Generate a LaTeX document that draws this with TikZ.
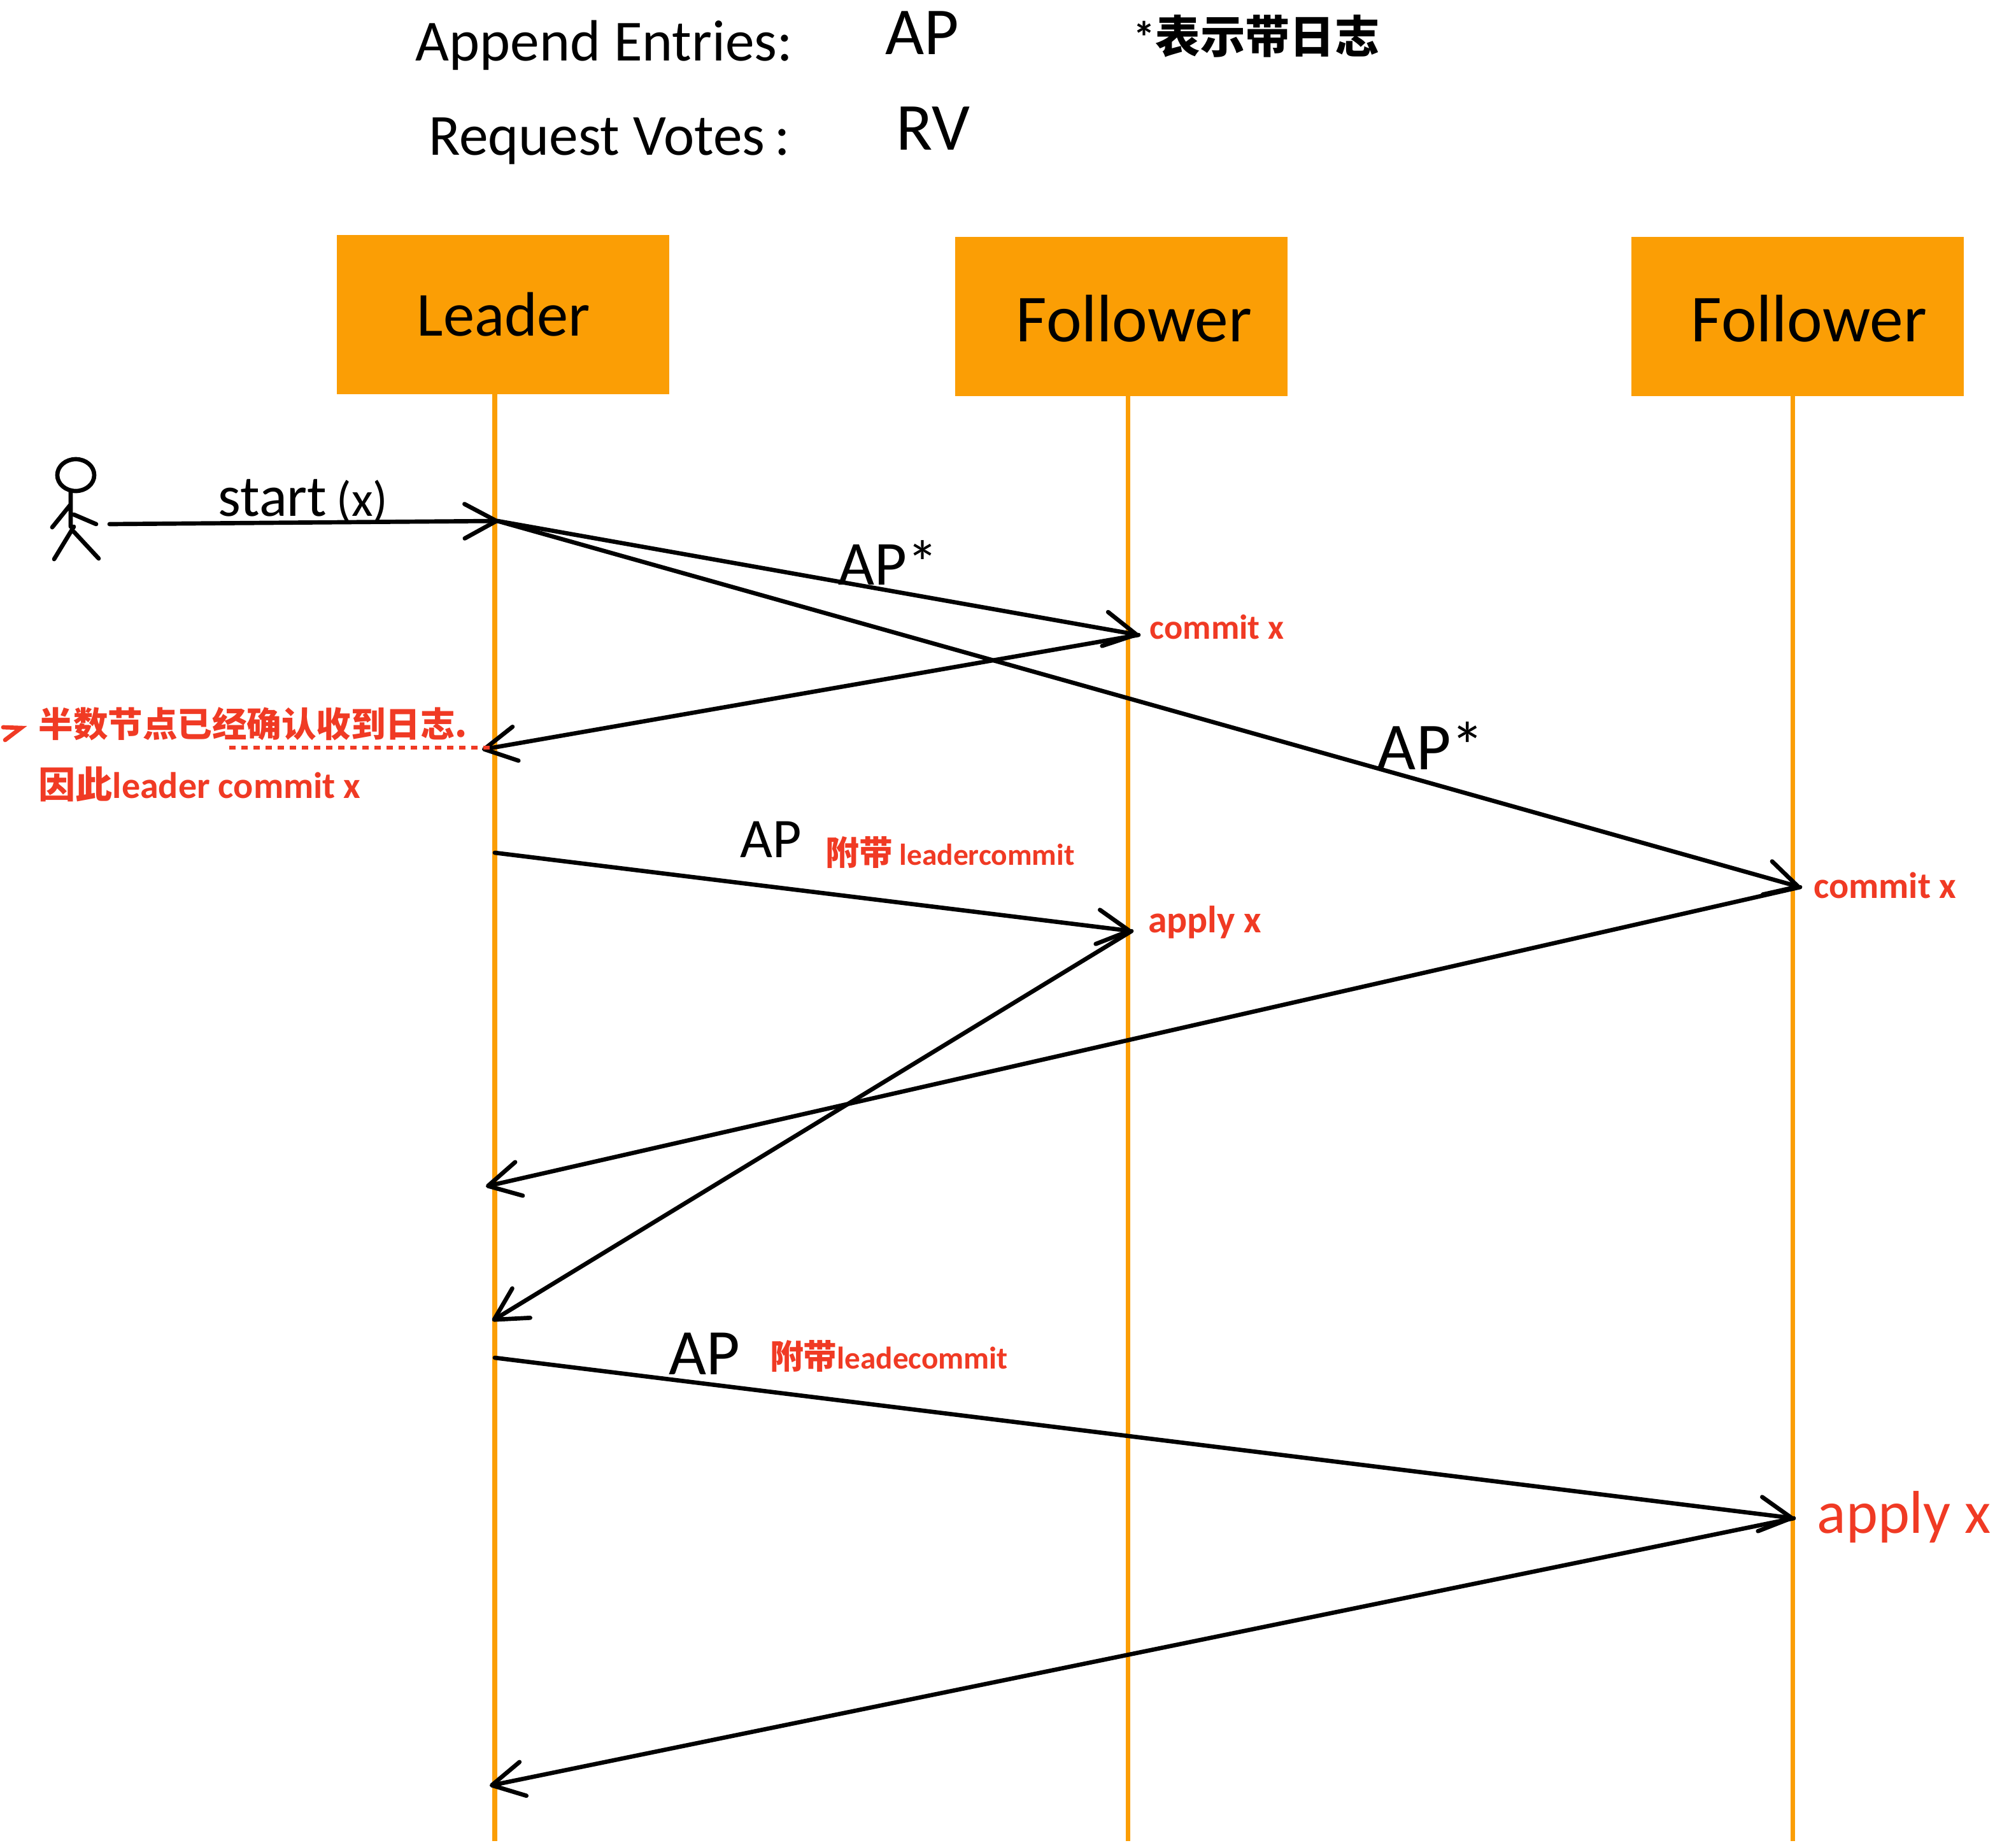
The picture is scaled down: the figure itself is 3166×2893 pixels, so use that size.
\documentclass[tikz,border=0pt]{standalone}
\usepackage{fontspec}
\setmainfont{Carlito}
\newfontfamily\cjk{Noto Sans CJK SC}
\usetikzlibrary{arrows.meta}
\definecolor{boxorange}{HTML}{FB9E05}
\definecolor{notered}{HTML}{F03A24}
\newcommand{\fs}[1]{\fontsize{#1}{#1}\selectfont}
\tikzset{
    role/.style={fill=boxorange, minimum width=5.21cm, minimum height=2.49cm},
    rolename/.style={font=\fs{30}, inner sep=0pt},
    lifeline/.style={boxorange, line width=2pt},
    msg/.style={black, line width=1.9pt, line cap=round, -{Straight Barb[round, length=5mm, width=5.4mm, line width=1.9pt]}},
    title/.style={font=\fs{26}},
    biglabel/.style={font=\fs{30}},
    note/.style={text=notered, font=\fs{16.5}\bfseries},
    figure/.style={line width=1.9pt, line cap=round}
}

\begin{document}
\begin{tikzpicture}[x=0.01cm, y=-0.01cm]
    \useasboundingbox (0,0) rectangle (3166,2893);

    % heading
    \node[title] (append) at (949,71) {Append Entries:};
    \node[title] (request) at (957,222) {Request Votes\,:};
    \node[biglabel] (apname) at (1448,52) {AP};
    \node[biglabel] (rvname) at (1465,202) {RV};
    \node[font=\fs{20}\bfseries] (star) at (1973,57) {*{\cjk 表示带日志}};

    % end points of the lifelines
    \coordinate (leaderTop) at (777,600);
    \coordinate (followerATop) at (1771,600);
    \coordinate (followerBTop) at (2815,600);
    \coordinate (leaderEnd) at (777,2891);
    \coordinate (followerAEnd) at (1771,2891);
    \coordinate (followerBEnd) at (2815,2891);
    \draw[lifeline] (leaderTop) -- (leaderEnd);
    \draw[lifeline] (followerATop) -- (followerAEnd);
    \draw[lifeline] (followerBTop) -- (followerBEnd);

    % the three roles
    \node[role] (leader) at (790,494) {};
    \node[role] (followerA) at (1761,497) {};
    \node[role] (followerB) at (2823,497) {};
    \node[rolename, font=\fs{28}] (leaderName) at (791,494) {Leader};
    \node[rolename] (followerAName) at (1781,500) {Follower};
    \node[rolename] (followerBName) at (2841,500) {Follower};

    % client
    \draw[figure] (119,746) ellipse (29 and 25);
    \draw[figure] (111,771) -- (111,827)
        (111,792) -- (82,828)
        (116,808) -- (151,823)
        (116,827) -- (85,878)
        (116,835) -- (155,877);
    \coordinate (client) at (172,823);
    \coordinate (leaderIn) at (783,818);
    \draw[msg] (client) -- (leaderIn);
    \node[font=\fs{26}] (start) at (476,787) {start\,{\fs{22}(x)}};

    % first round of the log entry
    \coordinate (leaderOut) at (781,818);
    \coordinate (followerAGot) at (1788,997);
    \coordinate (followerBGot) at (2827,1393);
    \coordinate (leaderAckA) at (757,1177);
    \draw[msg] (leaderOut) -- (followerAGot);
    \draw[msg] (leaderOut) -- (followerBGot);
    \draw[msg] (followerAGot) -- (leaderAckA);
    \node[font=\fs{28}] (apstarA) at (1395,884) {AP*};
    \node[biglabel] (apstarB) at (2247,1171) {AP*};
    \node[note, font=\fs{15.5}\bfseries] (commitA) at (1911,985) {commit x};
    \node[note] (commitB) at (2960,1390) {commit x};

    % leader commits after the majority
    \coordinate (dashStart) at (360,1174);
    \coordinate (dashEnd) at (777,1174);
    \draw[notered, line width=1.7pt, dash pattern=on 0.1cm off 0.09cm] (dashStart) -- (dashEnd);
    \draw[figure, notered] (5,1142) -- (33,1143) -- (8,1162);
    \node[note, anchor=west, font=\fs{15.5}\bfseries, inner sep=0pt] (majority) at (60,1137) {\cjk 半数节点已经确认收到日志.};
    \node[note, anchor=west, inner sep=0pt] (therefore) at (60,1231) {{\cjk 因此}leader commit x};

    % second round
    \coordinate (leaderOutB) at (777,1339);
    \coordinate (followerAApply) at (1777,1462);
    \coordinate (leaderAckB) at (773,2074);
    \coordinate (followerBCommit) at (2827,1393);
    \coordinate (leaderAckC) at (763,1863);
    \draw[msg] (leaderOutB) -- (followerAApply);
    \draw[msg] (followerAApply) -- (leaderAckB);
    \draw[msg] (followerBCommit) -- (leaderAckC);
    \node[font=\fs{25}] (apB) at (1211,1318) {AP};
    \node[note, font=\fs{13.5}\bfseries] (withB) at (1492,1339) {{\cjk\fs{15}附带} leadercommit};
    \node[note, font=\fs{17}\bfseries] (applyA) at (1892,1448) {apply x};

    % third round
    \coordinate (leaderOutC) at (777,2132);
    \coordinate (followerBApply) at (2817,2384);
    \coordinate (leaderAckD) at (769,2804);
    \draw[msg] (leaderOutC) -- (followerBApply);
    \draw[msg] (followerBApply) -- (leaderAckD);
    \node[font=\fs{29}] (apC) at (1106,2126) {AP};
    \node[note, font=\fs{14}\bfseries] (withC) at (1396,2130) {{\cjk\fs{15}附带}leadecommit};
    \node[note, font=\fs{27}\mdseries] (applyB) at (2990,2382) {apply x};
\end{tikzpicture}
\end{document}
